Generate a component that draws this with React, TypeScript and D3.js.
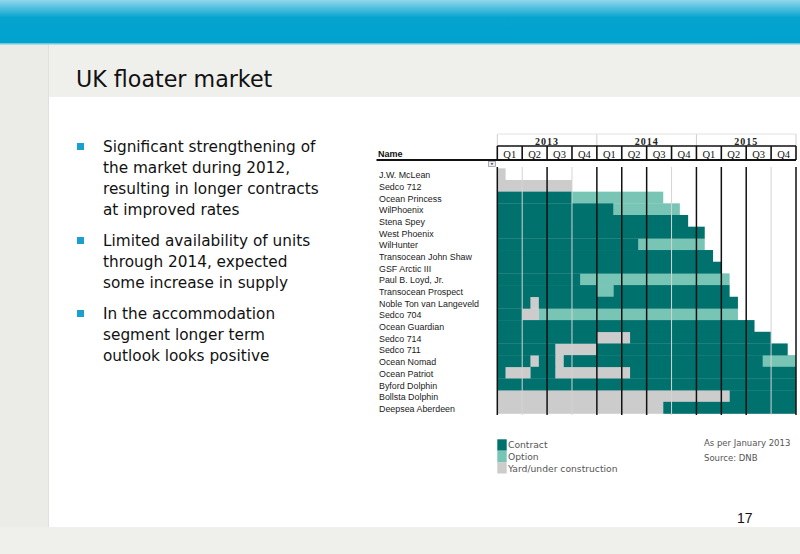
import React from 'react';
import * as d3 from 'd3';

const rigNames = [
  'J.W. McLean', 'Sedco 712', 'Ocean Princess', 'WilPhoenix', 'Stena Spey', 'West Phoenix',
  'WilHunter', 'Transocean John Shaw', 'GSF Arctic III', 'Paul B. Loyd, Jr.', 'Transocean Prospect',
  'Noble Ton van Langeveld', 'Sedco 704', 'Ocean Guardian', 'Sedco 714', 'Sedco 711',
  'Ocean Nomad', 'Ocean Patriot', 'Byford Dolphin', 'Bollsta Dolphin', 'Deepsea Aberdeen',
];

// months counted from January 2013: [rig, from, to]
const contractSegments: [string, number, number][] = [
  ['Ocean Princess', 0, 9], ['WilPhoenix', 0, 14], ['Stena Spey', 0, 23], ['West Phoenix', 0, 25],
  ['WilHunter', 0, 17], ['Transocean John Shaw', 0, 26], ['GSF Arctic III', 0, 27],
  ['Paul B. Loyd, Jr.', 0, 10], ['Transocean Prospect', 0, 12], ['Transocean Prospect', 14, 28],
  ['Noble Ton van Langeveld', 0, 4], ['Noble Ton van Langeveld', 5, 29], ['Sedco 704', 0, 3],
  ['Ocean Guardian', 0, 31], ['Sedco 714', 0, 12], ['Sedco 714', 16, 33],
  ['Sedco 711', 0, 7], ['Sedco 711', 12, 35], ['Ocean Nomad', 0, 4], ['Ocean Nomad', 5, 7],
  ['Ocean Nomad', 8, 32], ['Ocean Patriot', 0, 1], ['Ocean Patriot', 4, 7], ['Ocean Patriot', 16, 36],
  ['Byford Dolphin', 0, 36], ['Bollsta Dolphin', 28, 36], ['Deepsea Aberdeen', 20, 36],
];

const optionSegments: [string, number, number][] = [
  ['Ocean Princess', 9, 20], ['WilPhoenix', 14, 22], ['WilHunter', 17, 25],
  ['Paul B. Loyd, Jr.', 10, 28], ['Transocean Prospect', 12, 14], ['Sedco 704', 5, 29],
  ['Ocean Nomad', 32, 36],
];

const yardSegments: [string, number, number][] = [
  ['J.W. McLean', 0, 1], ['Sedco 712', 0, 9], ['Noble Ton van Langeveld', 4, 5], ['Sedco 704', 3, 5],
  ['Sedco 714', 12, 16], ['Sedco 711', 7, 12], ['Ocean Nomad', 4, 5], ['Ocean Nomad', 7, 8],
  ['Ocean Patriot', 1, 4], ['Ocean Patriot', 7, 16], ['Bollsta Dolphin', 0, 28], ['Deepsea Aberdeen', 0, 20],
];

const years = ['2013', '2014', '2015'];
const quarters = ['Q1', 'Q2', 'Q3', 'Q4'];

const legendItems = ['Contract', 'Option', 'Yard/under construction'];

const bullets = [
  ['Significant strengthening of', 'the market during 2012,', 'resulting in longer contracts', 'at improved rates'],
  ['Limited availability of units', 'through 2014, expected', 'some increase in supply'],
  ['In the accommodation', 'segment longer term', 'outlook looks positive'],
];

const COLORS = { contract: '#00716d', option: '#78c4b5', yard: '#cccccc' };
const lightBoundaries = new Set([1, 3, 7, 11]);

export default function App() {
  const x = d3.scaleLinear().domain([0, 36]).range([497.3, 796]);
  const y = d3.scaleBand<string>().domain(rigNames).range([168.3, 413.5]);
  const rowH = y.bandwidth();
  const quarterIdx = d3.range(12);
  const boundaries = d3.range(13);

  const seg = (list: [string, number, number][], color: string, key: string) =>
    list.map(([rig, a, b], i) => (
      <rect key={key + i} x={x(a)} y={y(rig)!} width={x(b) - x(a)} height={rowH + 0.3} fill={color} />
    ));

  let lineY = 152;
  const bulletEls: JSX.Element[] = [];
  bullets.forEach((para, pi) => {
    bulletEls.push(<rect key={'b' + pi} x={77} y={lineY - 9} width={7} height={7} fill="#19a0d0" />);
    para.forEach((line, li) => {
      bulletEls.push(
        <text key={'t' + pi + '_' + li} x={103} y={lineY} fontSize={15.3} fontFamily="DejaVu Sans" fill="#111">{line}</text>
      );
      lineY += 21;
    });
    lineY += 10;
  });

  return (
    <div style={{ position: 'absolute', left: 0, top: 0 }}>
      <svg width={800} height={554} viewBox="0 0 800 554" style={{ display: 'block' }}>
        <defs>
          <linearGradient id="banner" x1="0" y1="0" x2="0" y2="1">
            <stop offset="0" stopColor="#92d7ec" />
            <stop offset="0.4" stopColor="#05a4cf" />
            <stop offset="1" stopColor="#00a2ce" />
          </linearGradient>
        </defs>
        {/* slide background */}
        <rect x={0} y={0} width={800} height={554} fill="#ffffff" />
        <rect x={0} y={44} width={800} height={53} fill="#efefeb" />
        <rect x={0} y={44} width={48} height={510} fill="#ebebe7" />
        <line x1={48.5} y1={44} x2={48.5} y2={554} stroke="#e0e0dc" />
        <rect x={0} y={527} width={800} height={27} fill="#efefeb" />
        <rect x={0} y={0} width={800} height={44} fill="url(#banner)" />
        <rect x={0} y={43} width={800} height={1.5} fill="#6fc9e2" />

        <text x={76} y={87} fontSize={22.2} fontFamily="DejaVu Sans" fill="#111">UK floater market</text>
        {bulletEls}

        {/* header */}
        {years.map((yr, i) => (
          <text key={yr} x={(x(i * 12) + x(i * 12 + 12)) / 2} y={145} textAnchor="middle" fontSize={10}
            fontWeight="bold" letterSpacing={1} fontFamily="Liberation Serif" fill="#222">{yr}</text>
        ))}
        {[0, 12, 24, 36].map((m) => (
          <line key={'yl' + m} x1={x(m)} y1={134} x2={x(m)} y2={146} stroke="#cfcfcf" strokeWidth={1} />
        ))}
        <line x1={x(0)} y1={134} x2={x(36)} y2={134} stroke="#e2e2e2" strokeWidth={1} />
        {quarterIdx.map((q) => (
          <text key={'q' + q} x={(x(q * 3) + x(q * 3 + 3)) / 2} y={157.5} textAnchor="middle" fontSize={10.5}
            fontFamily="Liberation Serif" fill="#111">{quarters[q % 4]}</text>
        ))}
        <line x1={x(0)} y1={146} x2={x(36)} y2={146} stroke="#111" strokeWidth={1.5} />
        <line x1={376.5} y1={160} x2={x(36)} y2={160} stroke="#111" strokeWidth={2} />
        {boundaries.map((b) => (
          <line key={'qb' + b} x1={x(b * 3)} y1={146} x2={x(b * 3)} y2={160} stroke="#111" strokeWidth={1.6} />
        ))}
        <text x={378} y={157} fontSize={9} fontWeight="bold" fontFamily="Liberation Sans" fill="#111">Name</text>
        <rect x={488.5} y={161.5} width={7} height={5} fill="#eeeeee" stroke="#9a9aa8" strokeWidth={0.8} />
        <path d="M490.5,163.3 L493.5,163.3 L492,165 Z" fill="#333" />

        {/* rig names */}
        {rigNames.map((n) => (
          <text key={n} x={379} y={y(n)! + rowH / 2 + 4.2} fontSize={8.9} fontFamily="Liberation Sans" fill="#1a1a1a">{n}</text>
        ))}

        {/* bars */}
        {seg(yardSegments, COLORS.yard, 'y')}
        {seg(optionSegments, COLORS.option, 'o')}
        {seg(contractSegments, COLORS.contract, 'c')}

        {/* quarter grid lines */}
        {boundaries.map((b) => (
          <line key={'g' + b} x1={x(b * 3)} y1={167} x2={x(b * 3)} y2={415}
            stroke={lightBoundaries.has(b) ? '#d4d4d4' : '#111'} strokeWidth={lightBoundaries.has(b) ? 1 : 1.5} />
        ))}

        {/* legend */}
        {legendItems.map((l, i) => (
          <g key={l}>
            <rect x={497.3} y={439.3 + i * 11.4} width={9.4} height={11.4}
              fill={[COLORS.contract, COLORS.option, COLORS.yard][i]} />
            <text x={508} y={448.3 + i * 11.6} fontSize={9.2} fontFamily="DejaVu Sans" fill="#555">{l}</text>
          </g>
        ))}
        <text x={704} y={446} fontSize={8.5} fontFamily="DejaVu Sans" fill="#555">As per January 2013</text>
        <text x={704} y={461} fontSize={8.5} fontFamily="DejaVu Sans" fill="#555">Source: DNB</text>

        <text x={737} y={523} fontSize={14} fontFamily="Liberation Sans" fill="#111">17</text>
      </svg>
    </div>
  );
}
